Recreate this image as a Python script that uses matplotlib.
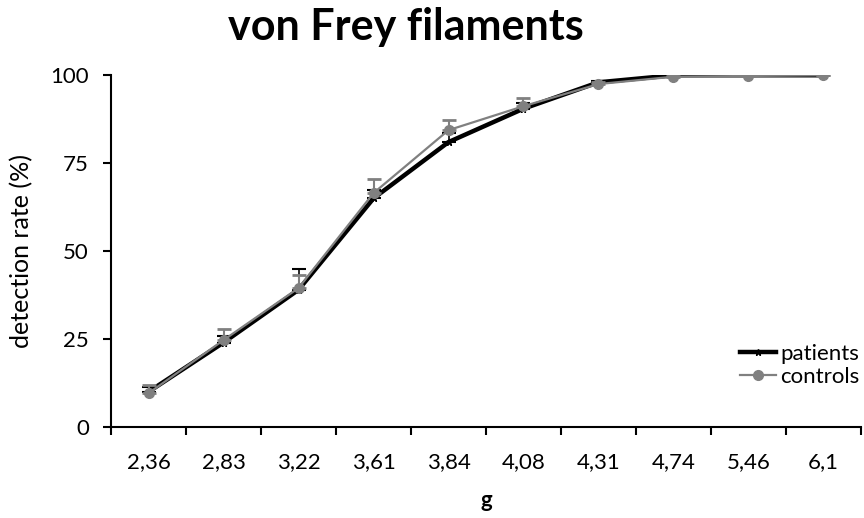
import numpy as np
import matplotlib.pyplot as plt
from matplotlib.lines import Line2D

# data
labels = ['2,36', '2,83', '3,22', '3,61', '3,84', '4,08', '4,31', '4,74', '5,46', '6,1']
patients = [10.0, 24.0, 39.0, 65.0, 81.0, 90.5, 98.0, 100.0, 100.0, 100.0]
patients_err = [1.5, 2.0, 5.8, 2.5, 2.5, 1.5, 0.5, 0.0, 0.0, 0.0]
controls = [9.6, 24.7, 39.5, 66.5, 84.4, 91.2, 97.5, 99.6, 99.8, 100.0]
controls_err = [2.3, 3.1, 3.7, 4.0, 2.8, 2.3, 0.5, 0.3, 0.2, 0.0]

plt.rcParams['font.family'] = ['Lato', 'DejaVu Sans']

fig = plt.figure(figsize=(8.64, 5.18), dpi=100)
ax = fig.add_axes([0.1285, 0.1757, 0.868, 0.679])

x = np.arange(len(labels))
zero = [0] * len(x)

ax.errorbar(x, patients, yerr=[zero, patients_err], color='black', lw=3.2,
            marker='*', ms=5, capsize=5, elinewidth=1.2, capthick=1.5, zorder=2)
ax.errorbar(x, controls, yerr=[zero, controls_err], color='#808080', lw=1.6,
            marker='o', ms=7, capsize=5, elinewidth=1.5, capthick=2, zorder=3)

ax.set_xlim(-0.5, len(labels) - 0.5)
ax.set_ylim(0, 100)
ax.set_yticks([0, 25, 50, 75, 100])
ax.set_xticks(x)
ax.set_xticklabels(labels)
ax.set_xticks(np.arange(-0.5, len(labels)), minor=True)
ax.tick_params(axis='x', which='major', length=0, pad=18, labelsize=16)
ax.tick_params(axis='x', which='minor', length=6, width=1.5, direction='out')
ax.tick_params(axis='y', length=6, width=1.5, labelsize=16, pad=10)

for s in ['top', 'right']:
    ax.spines[s].set_visible(False)
ax.spines['left'].set_linewidth(1.5)
ax.spines['bottom'].set_linewidth(1.5)

ax.set_ylabel('detection rate (%)', fontsize=18)
ax.yaxis.set_label_coords(-0.104, 0.5)
ax.set_xlabel('g', fontsize=16, fontweight='bold')
ax.xaxis.set_label_coords(0.5, -0.18)
fig.text(0.47, 0.922, 'von Frey filaments', fontsize=31, fontweight='bold',
         ha='center', va='baseline')

handles = [Line2D([], [], color='black', lw=3.2, marker='*', ms=5),
           Line2D([], [], color='#808080', lw=1.6, marker='o', ms=7)]
ax.legend(handles, ['patients', 'controls'], loc='center right',
          bbox_to_anchor=(1.025, 0.175), frameon=False, fontsize=16,
          handlelength=1.6, handletextpad=0.2, labelspacing=0.15)

fig.savefig('out.png', dpi=100)
